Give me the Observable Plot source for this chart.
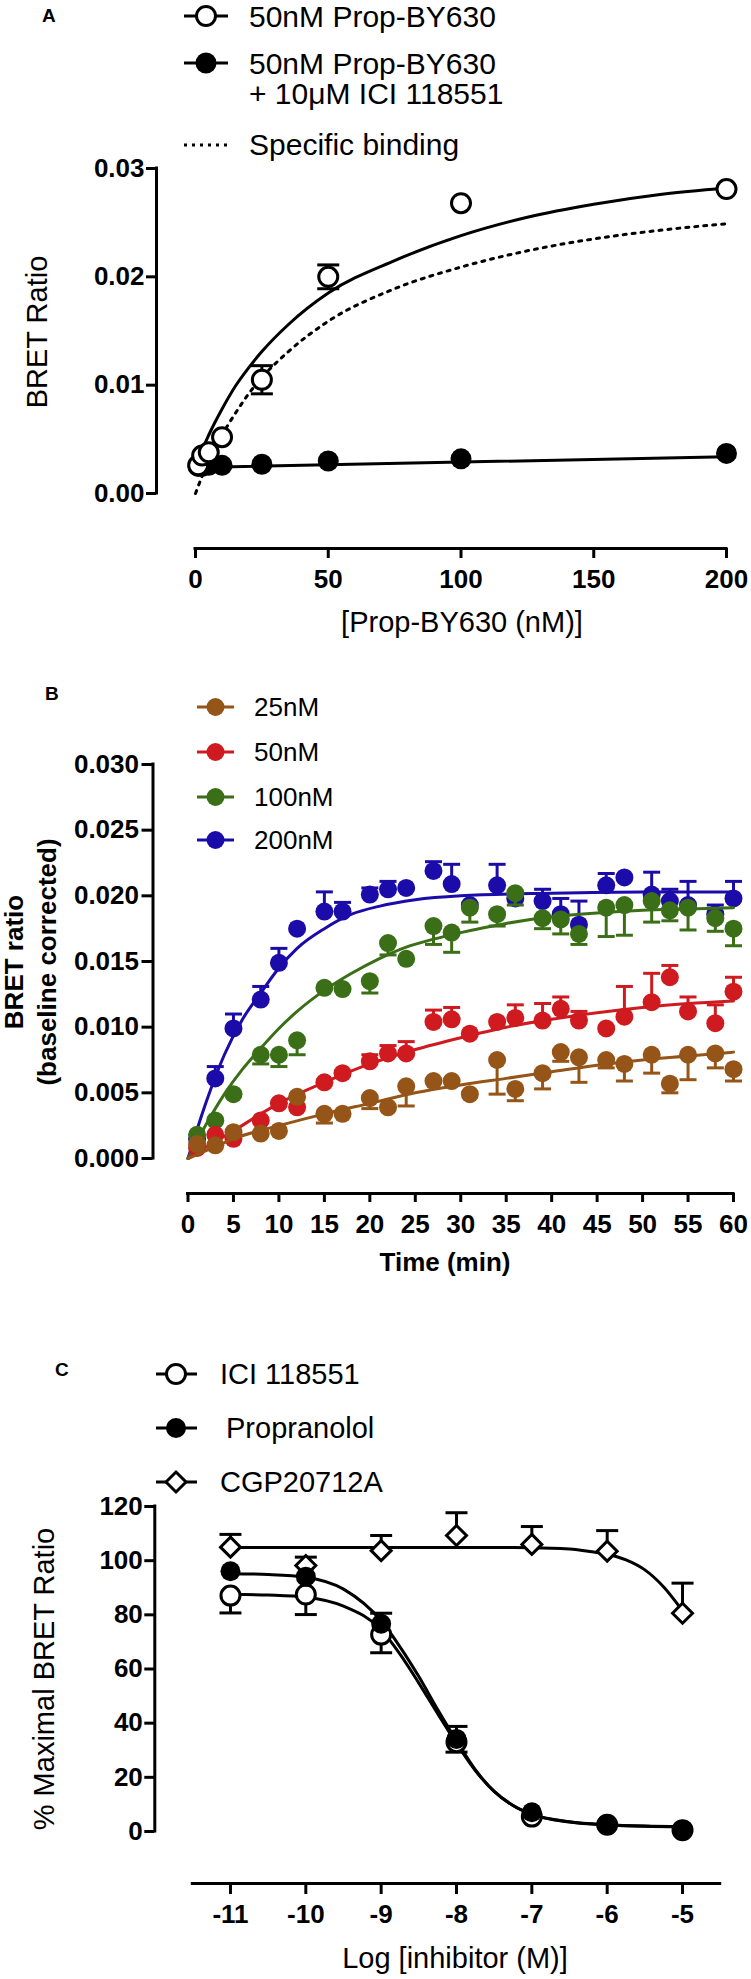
<!DOCTYPE html>
<html>
<head>
<meta charset="utf-8">
<script src="https://cdn.jsdelivr.net/npm/d3@7"></script>
<script src="https://cdn.jsdelivr.net/npm/@observablehq/plot@0.6"></script>
<style>
  html, body { margin: 0; padding: 0; background: #fff; }
  #root { position: relative; width: 751px; height: 1979px; overflow: hidden; background: #fff;
          font-family: "Liberation Sans", Arial, Helvetica, sans-serif; }
  #root > svg { position: absolute; }
</style>
</head>
<body>
<div id="root"></div>
<script>
const FONT = '"Liberation Sans", Arial, Helvetica, sans-serif';

// ---------------- Panel A : saturation binding ----------------
const concA      = [1, 2.5, 5, 10, 25, 50, 100, 200];
const totalA     = [0.0026, 0.0035, 0.0038, 0.0052, 0.0105, 0.0200, 0.0268, 0.0281];
const totalSemA  = [0, 0, 0, 0, 0.0013, 0.0011, 0, 0];
const nsA        = [0.0025, 0.0025, 0.0026, 0.0026, 0.0027, 0.0030, 0.0032, 0.0037];
const totalFitX  = [1, 2.5, 5, 10, 15, 20, 25, 35, 50, 75, 100, 125, 150, 175, 200];
const totalFitY  = [0.0030, 0.0040, 0.0054, 0.0078, 0.0099, 0.0116, 0.0131, 0.0156, 0.0185, 0.0215, 0.0238, 0.0255, 0.0267, 0.0276, 0.0282];
const specFitX   = [0, 2.5, 5, 10, 15, 20, 25, 35, 50, 75, 100, 125, 150, 175, 200];
const specFitY   = [0, 0.0016, 0.0030, 0.0054, 0.0074, 0.0092, 0.0107, 0.0131, 0.0159, 0.0189, 0.0209, 0.0224, 0.0235, 0.0243, 0.0249];
const nsFitX     = [1, 200];
const nsFitY     = [0.0024, 0.0034];
const xTicksA    = [0, 50, 100, 150, 200];
const yTicksA    = [0, 0.01, 0.02, 0.03];

// ---------------- Panel B : association kinetics ----------------
const timesB = [1, 3, 5, 8, 10, 12, 15, 17, 20, 22, 24, 27, 29, 31, 34, 36, 39, 41, 43, 46, 48, 51, 53, 55, 58, 60];
const seriesNamesB = ["25nM", "50nM", "100nM", "200nM"];
const seriesColorsB = ["#955418", "#cf1a1f", "#3b6f17", "#1b0ca9"];
const v25  = [0.0011, 0.0010, 0.0020, 0.0019, 0.0021, 0.0047, 0.0034, 0.0034, 0.0046, 0.0039, 0.0055, 0.0059, 0.0059, 0.0049, 0.0075, 0.0053, 0.0065, 0.0081, 0.0077, 0.0075, 0.0072, 0.0079, 0.0057, 0.0079, 0.0080, 0.0068];
const e25  = [null, null, null, null, null, null, 0.0027, null, 0.0038, null, 0.0040, null, null, null, 0.0049, 0.0044, 0.0053, 0.0074, 0.0058, 0.0069, 0.0059, 0.0065, 0.0050, 0.0060, 0.0069, 0.0059];
const v50  = [0.0008, 0.0018, 0.0015, 0.0029, 0.0042, 0.0039, 0.0058, 0.0065, 0.0074, 0.0080, 0.0080, 0.0104, 0.0106, 0.0095, 0.0104, 0.0107, 0.0105, 0.0114, 0.0105, 0.0099, 0.0108, 0.0119, 0.0138, 0.0112, 0.0103, 0.0127];
const e50  = [null, null, null, null, null, null, null, null, 0.0079, 0.0086, 0.0089, 0.0113, 0.0115, null, null, 0.0117, 0.0118, 0.0123, 0.0112, null, 0.0131, 0.0141, 0.0147, 0.0123, 0.0117, 0.0138];
const v100 = [0.0018, 0.0029, 0.0049, 0.0079, 0.0079, 0.0090, 0.0130, 0.0129, 0.0135, 0.0164, 0.0152, 0.0177, 0.0172, 0.0191, 0.0186, 0.0202, 0.0183, 0.0182, 0.0171, 0.0191, 0.0193, 0.0196, 0.0189, 0.0191, 0.0183, 0.0175];
const e100 = [null, null, null, 0.0072, 0.0070, 0.0079, null, null, 0.0126, 0.0155, null, 0.0163, 0.0157, 0.0180, 0.0177, 0.0193, 0.0175, 0.0171, 0.0163, 0.0169, 0.0170, 0.0180, 0.0181, 0.0174, 0.0173, 0.0162];
const v200 = [0.0015, 0.0061, 0.0099, 0.0121, 0.0149, 0.0175, 0.0188, 0.0188, 0.0201, 0.0205, 0.0206, 0.0219, 0.0209, 0.0193, 0.0208, 0.0198, 0.0196, 0.0186, 0.0178, 0.0208, 0.0214, 0.0201, 0.0196, 0.0193, 0.0186, 0.0198];
const e200 = [null, 0.0070, 0.0110, 0.0131, 0.0160, null, 0.0203, 0.0195, 0.0206, 0.0211, null, 0.0226, 0.0224, null, 0.0224, null, 0.0205, 0.0198, 0.0196, 0.0217, null, 0.0218, 0.0205, 0.0211, 0.0193, 0.0211];
const fitT25  = [0, 3, 5, 10, 15, 20, 25, 30, 35, 40, 45, 50, 55, 60];
const fitY25  = [0, 0.0009, 0.0015, 0.0025, 0.0034, 0.0042, 0.0050, 0.0056, 0.0061, 0.0066, 0.0071, 0.0075, 0.0078, 0.0081];
const fitT50  = [0, 3, 5, 8, 10, 15, 20, 25, 30, 35, 40, 45, 50, 55, 60];
const fitY50  = [0, 0.0013, 0.0021, 0.0034, 0.0042, 0.0058, 0.0072, 0.0083, 0.0092, 0.0100, 0.0106, 0.0111, 0.0115, 0.0118, 0.0120];
const fitT100 = [0, 2, 4, 6, 8, 10, 12, 15, 18, 21, 24, 27, 30, 35, 40, 45, 50, 55, 60];
const fitY100 = [0, 0.0026, 0.0049, 0.0068, 0.0084, 0.0099, 0.0112, 0.0128, 0.0141, 0.0152, 0.0161, 0.0167, 0.0172, 0.0179, 0.0184, 0.0187, 0.0189, 0.0190, 0.0191];
const fitT200 = [0, 2, 4, 6, 8, 10, 12, 15, 18, 21, 25, 30, 40, 50, 60];
const fitY200 = [0, 0.0043, 0.0079, 0.0106, 0.0126, 0.0145, 0.0160, 0.0175, 0.0186, 0.0192, 0.0197, 0.0200, 0.0202, 0.0203, 0.0203];
const xTicksB = [0, 5, 10, 15, 20, 25, 30, 35, 40, 45, 50, 55, 60];
const yTicksB = [0, 0.005, 0.010, 0.015, 0.020, 0.025, 0.030];

// ---------------- Panel C : competition ----------------
const logC        = [-11, -10, -9, -8, -7, -6, -5];
const iciC        = [87.1, 87.5, 72.7, 33.0, 5.5, 2.5, 0.5];
const iciErrEnd   = [80.7, 80.1, 66.0, 29.3, null, null, null];
const propC       = [96.1, 94.1, 76.7, 34.2, 7.1, 2.8, 0.4];
const propErrEnd  = [null, null, 80.6, 38.8, null, null, null];
const cgpC        = [105.0, 98.2, 103.7, 109.3, 106.0, 103.5, 80.6];
const cgpErrEnd   = [109.7, 101.3, 109.3, 117.7, 112.6, 111.1, 91.7];
const sigFitX     = [-11, -10.5, -10, -9.5, -9, -8.75, -8.5, -8.25, -8, -7.75, -7.5, -7.25, -7, -6.5, -6, -5.5, -5];
const iciFitY     = [87.6, 87.3, 86.5, 83.2, 74.5, 65.5, 54.8, 43.5, 32.5, 22.5, 14.8, 9.6, 6.3, 3.5, 2.4, 1.9, 1.7];
const propFitY    = [95.2, 94.9, 93.9, 89.5, 77.8, 68.2, 57.2, 45.0, 33.5, 22.8, 14.8, 9.6, 6.4, 3.6, 2.5, 2.0, 1.8];
const cgpFitX     = [-11, -10, -9, -8, -7, -6.5, -6.25, -6, -5.75, -5.5, -5.25, -5];
const cgpFitY     = [104.9, 104.9, 104.9, 104.9, 104.8, 104.3, 103.5, 102.4, 100.3, 96.6, 90.3, 81.5];
const xTicksC     = [-11, -10, -9, -8, -7, -6, -5];
const xAxisSpanC  = [-11.5, -4.5];
const yTicksC     = [0, 20, 40, 60, 80, 100, 120];

// ---------------- helpers ----------------
const root = document.getElementById("root");
const pts = (xs, ys) => xs.map((x, i) => ({x, y: ys[i]}));
const capSymbol = half => ({ draw(ctx) { ctx.moveTo(-half, 0); ctx.lineTo(half, 0); } });
const baseStyle = {fontFamily: FONT, fontSize: "26px", color: "black", background: "transparent", overflow: "visible"};
const tickText = {fontSize: 26, fontWeight: "bold"};

function place(svg, top) {
  svg.style.top = top + "px";
  svg.style.left = "0px";
  svg.style.position = "absolute";
  root.appendChild(svg);
}

function axisLines(xSpan, ySpan, dx, dy) {
  return [
    Plot.ruleX([{x: xSpan[0], y1: ySpan[0], y2: ySpan[1]}], {x: "x", y1: "y1", y2: "y2", dx, strokeWidth: 3, strokeLinecap: "square"}),
    Plot.ruleY([{y: ySpan[0], x1: xSpan[0], x2: xSpan[1]}], {y: "y", x1: "x1", x2: "x2", dy, strokeWidth: 3, strokeLinecap: "square"})
  ];
}

// ---------------- Panel A plot ----------------
{
  const rows = concA.map((c, i) => ({c, total: totalA[i], sem: totalSemA[i], ns: nsA[i]}));
  const errRows = rows.filter(d => d.sem > 0);
  const dxA = -39, dyA = 55;
  const svg = Plot.plot({
    width: 751, height: 500,
    marginLeft: 195, marginRight: 25, marginTop: 18, marginBottom: 157,
    x: {domain: [xTicksA[0], xTicksA[xTicksA.length - 1]]},
    y: {domain: [yTicksA[0], yTicksA[yTicksA.length - 1]]},
    style: baseStyle,
    marks: [
      ...axisLines([xTicksA[0], xTicksA[xTicksA.length - 1]], [yTicksA[0], yTicksA[yTicksA.length - 1]], dxA, dyA),
      Plot.axisY(yTicksA, {anchor: "left", dx: dxA, tickSize: 10, tickPadding: 2, strokeWidth: 3, tickFormat: d => d.toFixed(2), ...tickText, label: null}),
      Plot.axisX(xTicksA, {anchor: "bottom", dy: dyA, tickSize: 10, tickPadding: 11, strokeWidth: 3, tickFormat: d => String(d), ...tickText, label: null}),
      Plot.line(pts(nsFitX, nsFitY), {x: "x", y: "y", stroke: "black", strokeWidth: 3}),
      Plot.line(pts(specFitX, specFitY), {x: "x", y: "y", stroke: "black", strokeWidth: 3, strokeDasharray: "3,6", curve: "monotone-x"}),
      Plot.line(pts(totalFitX, totalFitY), {x: "x", y: "y", stroke: "black", strokeWidth: 3, curve: "monotone-x"}),
      Plot.ruleX(errRows, {x: "c", y1: d => d.total - d.sem, y2: d => d.total + d.sem, stroke: "black", strokeWidth: 3}),
      Plot.dot(errRows, {x: "c", y: d => d.total + d.sem, symbol: capSymbol(11), r: 3, fill: "none", stroke: "black", strokeWidth: 3}),
      Plot.dot(errRows, {x: "c", y: d => d.total - d.sem, symbol: capSymbol(11), r: 3, fill: "none", stroke: "black", strokeWidth: 3}),
      Plot.dot(rows, {x: "c", y: "ns", r: 10.5, fill: "black"}),
      Plot.dot(rows, {x: "c", y: "total", r: 9.5, fill: "white", stroke: "black", strokeWidth: 3})
    ]
  });
  place(svg, 150);
}

// ---------------- Panel B plot ----------------
{
  const values = [v25, v50, v100, v200];
  const errs = [e25, e50, e100, e200];
  const fitsT = [fitT25, fitT50, fitT100, fitT200];
  const fitsY = [fitY25, fitY50, fitY100, fitY200];
  const dxB = -35, dyB = 35;
  const seriesMarks = [];
  // draw order: 200nM, 100nM, 50nM, 25nM (25nM on top)
  for (const k of [3, 2, 1, 0]) {
    const color = seriesColorsB[k];
    const rows = timesB.map((t, i) => ({t, v: values[k][i], e: errs[k][i]}));
    const errRows = rows.filter(d => d.e != null);
    seriesMarks.push(
      Plot.line(pts(fitsT[k], fitsY[k]), {x: "x", y: "y", stroke: color, strokeWidth: 3, curve: "monotone-x"}),
      Plot.ruleX(errRows, {x: "t", y1: "v", y2: "e", stroke: color, strokeWidth: 3}),
      Plot.dot(errRows, {x: "t", y: "e", symbol: capSymbol(8.5), r: 3, fill: "none", stroke: color, strokeWidth: 3}),
      Plot.dot(rows, {x: "t", y: "v", r: 9, fill: color})
    );
  }
  const svg = Plot.plot({
    width: 751, height: 560,
    marginLeft: 187.5, marginRight: 18, marginTop: 24, marginBottom: 142,
    x: {domain: [xTicksB[0], xTicksB[xTicksB.length - 1]]},
    y: {domain: [yTicksB[0], yTicksB[yTicksB.length - 1]]},
    style: baseStyle,
    marks: [
      ...axisLines([xTicksB[0], xTicksB[xTicksB.length - 1]], [yTicksB[0], yTicksB[yTicksB.length - 1]], dxB, dyB),
      Plot.axisY(yTicksB, {anchor: "left", dx: dxB, tickSize: 11, tickPadding: 3, strokeWidth: 3, tickFormat: d => d.toFixed(3), ...tickText, label: null}),
      Plot.axisX(xTicksB, {anchor: "bottom", dy: dyB, tickSize: 9, tickPadding: 12, strokeWidth: 3, tickFormat: d => String(d), ...tickText, label: null}),
      ...seriesMarks
    ]
  });
  place(svg, 740);
}

// ---------------- Panel C plot ----------------
{
  const rowsOf = (vals, ends) => logC.map((x, i) => ({x, v: vals[i], e: ends[i]}));
  const cgp = rowsOf(cgpC, cgpErrEnd), ici = rowsOf(iciC, iciErrEnd), prop = rowsOf(propC, propErrEnd);
  const errMarks = rows => {
    const er = rows.filter(d => d.e != null);
    return [
      Plot.ruleX(er, {x: "x", y1: "v", y2: "e", stroke: "black", strokeWidth: 3}),
      Plot.dot(er, {x: "x", y: "e", symbol: capSymbol(11), r: 3, fill: "none", stroke: "black", strokeWidth: 3})
    ];
  };
  const dxC = -38, dyC = 52;
  const svg = Plot.plot({
    width: 751, height: 499,
    marginLeft: 192.3, marginRight: 31.3, marginTop: 26, marginBottom: 148,
    x: {domain: xAxisSpanC},
    y: {domain: [yTicksC[0], yTicksC[yTicksC.length - 1]]},
    style: baseStyle,
    marks: [
      ...axisLines(xAxisSpanC, [yTicksC[0], yTicksC[yTicksC.length - 1]], dxC, dyC),
      Plot.axisY(yTicksC, {anchor: "left", dx: dxC, tickSize: 10, tickPadding: 2, strokeWidth: 3, tickFormat: d => String(d), ...tickText, label: null}),
      Plot.axisX(xTicksC, {anchor: "bottom", dy: dyC, tickSize: 11, tickPadding: 10, strokeWidth: 3, tickFormat: d => String(d), ...tickText, label: null}),
      Plot.line(pts(cgpFitX, cgpFitY), {x: "x", y: "y", stroke: "black", strokeWidth: 3, curve: "monotone-x"}),
      Plot.line(pts(sigFitX, iciFitY), {x: "x", y: "y", stroke: "black", strokeWidth: 3, curve: "monotone-x"}),
      Plot.line(pts(sigFitX, propFitY), {x: "x", y: "y", stroke: "black", strokeWidth: 3, curve: "monotone-x"}),
      ...errMarks(cgp),
      Plot.dot(cgp, {x: "x", y: "v", symbol: "diamond2", r: 9, fill: "white", stroke: "black", strokeWidth: 3}),
      ...errMarks(ici),
      Plot.dot(ici, {x: "x", y: "v", r: 9.5, fill: "white", stroke: "black", strokeWidth: 3}),
      ...errMarks(prop),
      Plot.dot(prop, {x: "x", y: "v", r: 10, fill: "black"})
    ]
  });
  place(svg, 1480);
}

// ---------------- Overlay: panel letters, legends, axis titles ----------------
{
  const NS = "http://www.w3.org/2000/svg";
  const ov = document.createElementNS(NS, "svg");
  ov.setAttribute("width", 751); ov.setAttribute("height", 1979);
  ov.style.top = "0px"; ov.style.left = "0px"; ov.style.pointerEvents = "none";
  ov.setAttribute("font-family", FONT);
  const add = (tag, attrs, text) => {
    const el = document.createElementNS(NS, tag);
    for (const [k, v] of Object.entries(attrs)) el.setAttribute(k, v);
    if (text != null) el.textContent = text;
    ov.appendChild(el);
    return el;
  };
  const txt = (x, y, s, size, opts = {}) => add("text", Object.assign({x, y, "font-size": size, "dominant-baseline": "central", fill: "black"}, opts), s);
  const vtxt = (x, y, s, size, opts = {}) => add("text", Object.assign({x: 0, y: 0, transform: `translate(${x},${y}) rotate(-90)`, "font-size": size, "text-anchor": "middle", "dominant-baseline": "central", fill: "black"}, opts), s);
  const legLine = (x1, x2, y, color, dash) => add("line", Object.assign({x1, x2, y1: y, y2: y, stroke: color, "stroke-width": 3}, dash ? {"stroke-dasharray": dash} : {}));

  // panel letters
  txt(42, 15, "A", 19, {"font-weight": "bold"});
  txt(45, 693, "B", 19, {"font-weight": "bold"});
  txt(55, 1369, "C", 19, {"font-weight": "bold"});

  // legend A
  legLine(184, 228, 16, "black");
  add("circle", {cx: 206, cy: 16, r: 9.5, fill: "white", stroke: "black", "stroke-width": 3});
  txt(249, 16, "50nM Prop-BY630", 30);
  legLine(184, 228, 63, "black");
  add("circle", {cx: 206, cy: 63, r: 10.5, fill: "black"});
  txt(249, 63, "50nM Prop-BY630", 30);
  txt(249, 93, "+ 10\u03bcM ICI 118551", 30);
  legLine(184, 228, 145, "black", "3,5");
  txt(249, 144, "Specific binding", 30);

  // legend B
  const rowsY = [707, 752, 797, 840];
  seriesNamesB.forEach((name, i) => {
    legLine(197, 234, rowsY[i], seriesColorsB[i]);
    add("circle", {cx: 215.5, cy: rowsY[i], r: 9, fill: seriesColorsB[i]});
    txt(254, rowsY[i], name, 26);
  });

  // legend C
  legLine(156, 197, 1374, "black");
  add("circle", {cx: 176, cy: 1374, r: 9.5, fill: "white", stroke: "black", "stroke-width": 3});
  txt(220, 1374, "ICI 118551", 29);
  legLine(156, 197, 1428, "black");
  add("circle", {cx: 176, cy: 1428, r: 10, fill: "black"});
  txt(226, 1428, "Propranolol", 29);
  legLine(156, 197, 1482, "black");
  add("path", {d: "M176,1472 L186,1482 L176,1492 L166,1482 Z", fill: "white", stroke: "black", "stroke-width": 3});
  txt(220, 1482, "CGP20712A", 29);

  // axis titles
  vtxt(37, 332, "BRET Ratio", 29);
  txt(462, 622, "[Prop-BY630 (nM)]", 29, {"text-anchor": "middle"});
  vtxt(14, 962, "BRET ratio", 26, {"font-weight": "bold"});
  vtxt(47, 962, "(baseline corrected)", 26, {"font-weight": "bold"});
  txt(445, 1262, "Time (min)", 26, {"font-weight": "bold", "text-anchor": "middle"});
  vtxt(44, 1679, "% Maximal BRET Ratio", 29);
  txt(455, 1958, "Log [inhibitor (M)]", 29, {"text-anchor": "middle"});

  root.appendChild(ov);
}
</script>
</body>
</html>
